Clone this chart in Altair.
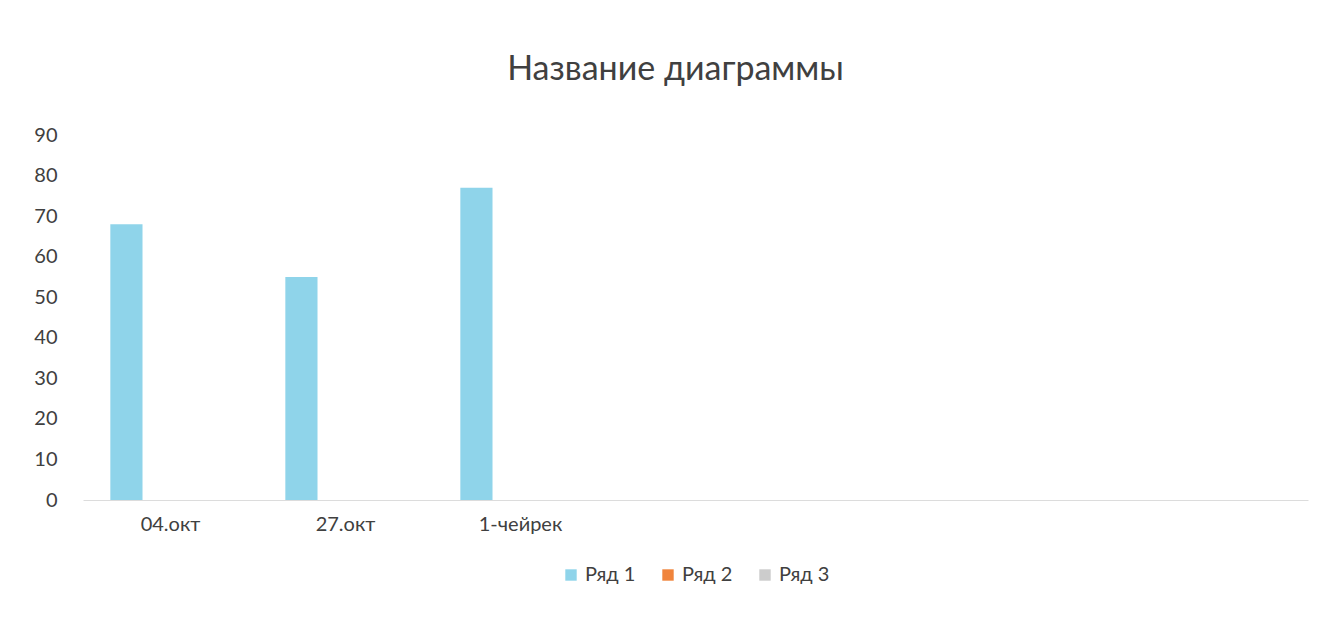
import altair as alt
import pandas as pd

categories = ["04.окт", "27.окт", "1-чейрек", " ", "  ", "   ", "    "]
series_names = ["Ряд 1", "Ряд 2", "Ряд 3"]
series1 = [68, 55, 77, None, None, None, None]
series2 = [None] * 7
series3 = [None] * 7
colors = ["#8fd4ea", "#f0843c", "#cccccc"]

rows = []
for name, vals in zip(series_names, [series1, series2, series3]):
    for c, v in zip(categories, vals):
        rows.append({"cat": c, "series": name, "value": v})
df = pd.DataFrame(rows)

FONT = "Lato"

chart = alt.Chart(df).mark_bar().encode(
    x=alt.X("cat:N", sort=categories,
            scale=alt.Scale(domain=categories, paddingInner=0, paddingOuter=0),
            axis=alt.Axis(title=None, labelAngle=0, ticks=False, domain=True,
                          domainColor="#dcdcdc", labelFontSize=20, labelColor="#404040",
                          labelPadding=14, labelFont=FONT)),
    xOffset=alt.XOffset("series:N", scale=alt.Scale(domain=series_names,
                                                    paddingInner=0.27, paddingOuter=0.62)),
    y=alt.Y("value:Q", scale=alt.Scale(domain=[0, 90]),
            axis=alt.Axis(title=None, values=list(range(0, 91, 10)), grid=False,
                          ticks=False, domain=False, labelFontSize=20,
                          labelColor="#404040", labelPadding=26, labelFont=FONT)),
    color=alt.Color("series:N", scale=alt.Scale(domain=series_names, range=colors),
                    legend=alt.Legend(title=None, orient="none", direction="horizontal",
                                      legendX=478, legendY=430,
                                      symbolType="square", symbolSize=130,
                                      labelFontSize=20, labelFont=FONT,
                                      labelColor="#404040", columnPadding=22,
                                      symbolStrokeWidth=0)),
).properties(
    width=1225, height=365,
    title=alt.TitleParams("Название диаграммы", fontSize=34, font=FONT,
                          fontWeight="normal", color="#404040", offset=38, dx=-20),
    autosize=alt.AutoSizeParams(type="none"),
    padding={"left": 75, "top": 127, "right": 20, "bottom": 90},
).configure_view(stroke=None)

chart.save("out.html", embed_options={"renderer": "svg", "actions": False})
